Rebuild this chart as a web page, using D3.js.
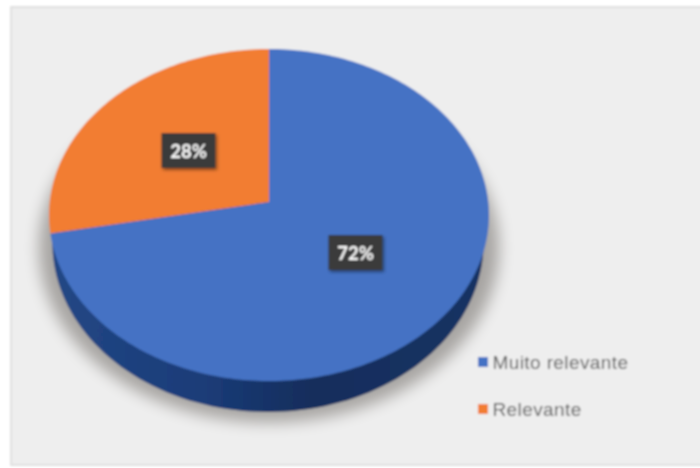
<!DOCTYPE html>
<html><head><meta charset="utf-8">
<script src="https://cdn.jsdelivr.net/npm/d3@7"></script>
<style>html,body{margin:0;padding:0;background:#fff;overflow:hidden}svg{display:block}</style>
</head><body><svg id="c" width="700" height="468"></svg>
<script>
const categories = ["Muito relevante", "Relevante"];
const values = [72, 28];
const colors = ["#4472c4", "#f27d31"];
const labels = ["72%", "28%"];

const svg = d3.select("#c");
const defs = svg.append("defs");
const soft = defs.append("filter").attr("id","soft").attr("filterUnits","userSpaceOnUse").attr("x",-20).attr("y",-20).attr("width",740).attr("height",508);
soft.append("feGaussianBlur").attr("stdDeviation",0.8);
const sh = defs.append("filter").attr("id","sh").attr("x","-20%").attr("y","-20%").attr("width","140%").attr("height","140%");
sh.append("feGaussianBlur").attr("stdDeviation",7);
const ds = defs.append("filter").attr("id","ds").attr("x","-30%").attr("y","-30%").attr("width","170%").attr("height","170%");
ds.append("feDropShadow").attr("dx",1.5).attr("dy",2).attr("stdDeviation",1.5).attr("flood-color","#000").attr("flood-opacity",0.45);
const g1 = defs.append("linearGradient").attr("id","side").attr("x1",0).attr("x2",1).attr("y1",0).attr("y2",0);
[["0%","#224785"],["35%","#1b3c78"],["60%","#142d5c"],["100%","#163363"]].forEach(s=>g1.append("stop").attr("offset",s[0]).attr("stop-color",s[1]));

const root = svg.append("g").attr("filter","url(#soft)");
root.append("rect").attr("x",11).attr("y",7).attr("width",720).attr("height",458).attr("fill","#eeeeee").attr("stroke","#d9d9d9").attr("stroke-width",1.5);

// perspective projection of the pie disc
const cx = 269, cy = 215, rx = 220, ry = 166, k = -13/166;
const project = a => {
  const u = Math.sin(a), v = -Math.cos(a), d = 1 + k*v;
  return [cx + rx*Math.sqrt(1-k*k)*u/d, cy + ry*(v+k)/d];
};
const apex = [cx, cy + ry*k];
const line = d3.line();
const pie = d3.pie().sort(null).value(d=>d)(values);
const ang = d3.range(0,361,2).map(d=>d*Math.PI/180);
const outline = ang.map(project);
const disc = line(outline)+"Z";
const at = (dx,dy,sx,sy)=>`translate(${cx+dx} ${cy+dy}) scale(${sx} ${sy}) translate(${-cx} ${-cy})`;

// cast shadow
root.append("path").attr("d",disc).attr("fill","#5a5550").attr("opacity",0.48)
  .attr("filter","url(#sh)").attr("transform",at(0,33,1.045,1.05));
// side wall: the lower rim, slightly narrower than the top face
root.append("path").attr("d",disc).attr("fill","url(#side)").attr("transform",at(-1,28,0.98,1.018));

// top slices
root.selectAll(".s").data(pie).join("path").attr("class","s")
  .attr("fill",(d,i)=>colors[i])
  .attr("d",d=>{
    const n = Math.ceil((d.endAngle-d.startAngle)/0.02);
    const pts = d3.range(n+1).map(i=>project(d.startAngle+(d.endAngle-d.startAngle)*i/n));
    return line([apex].concat(pts))+"Z";
  });

// data labels
const labelPos = [[355.5,252.5],[188.5,150.5]];
labels.forEach((t,i)=>{
  const g = root.append("g").attr("transform",`translate(${labelPos[i]})`);
  g.append("rect").attr("x",-27).attr("y",-17.5).attr("width",54).attr("height",35).attr("fill","#3b3b3b").attr("filter","url(#ds)");
  g.append("text").attr("text-anchor","middle").attr("y",7.5).attr("fill","#fff")
    .attr("font-family","Lato, 'Open Sans', sans-serif").attr("font-weight",700).attr("font-size",18.5).text(t);
});

// legend
const legendY = d3.scalePoint().domain(categories).range([362,409]);
const lg = root.selectAll(".l").data(categories).join("g").attr("class","l").attr("transform",d=>`translate(478 ${legendY(d)})`);
lg.append("rect").attr("y",-5).attr("width",10).attr("height",10).attr("fill",(d,i)=>colors[i]);
lg.append("text").attr("x",14.5).attr("y",6.5).attr("fill","#595959").attr("letter-spacing",0.4)
  .attr("font-family","'Liberation Sans', Arial, sans-serif").attr("font-size",19).text(d=>d);
</script></body></html>
